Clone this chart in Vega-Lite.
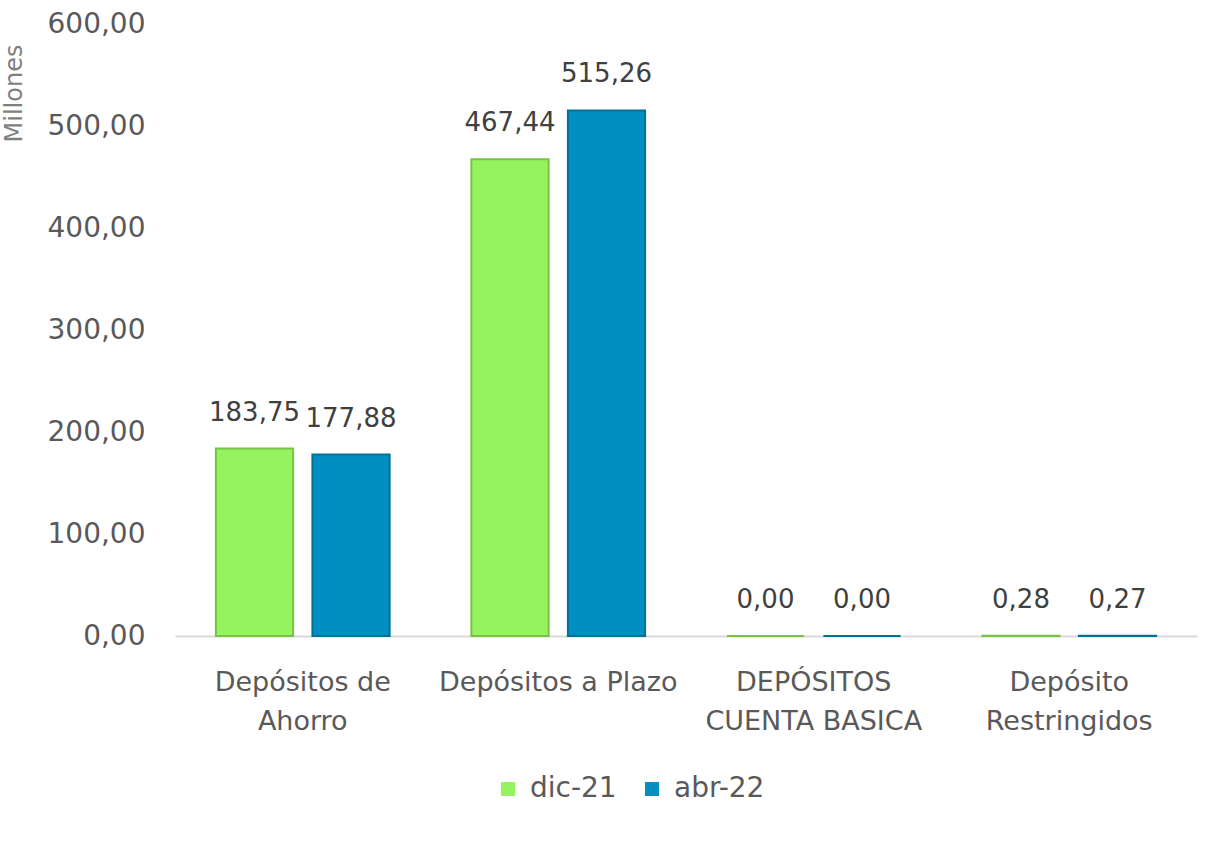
{
  "$schema": "https://vega.github.io/schema/vega-lite/v6.json",
  "autosize": "none",
  "width": 1022,
  "height": 612,
  "padding": {"left": 175, "top": 24, "right": 32, "bottom": 206},
  "background": "white",
  "config": {
    "locale": {"number": {"decimal": ",", "thousands": ".", "grouping": [3], "currency": ["", ""]}},
    "font": "DejaVu Sans",
    "view": {"stroke": null}
  },
  "data": {"values": [
    {"categoria": "Depósitos de Ahorro", "periodo": "dic-21", "valor": 183.75},
    {"categoria": "Depósitos de Ahorro", "periodo": "abr-22", "valor": 177.88},
    {"categoria": "Depósitos a Plazo", "periodo": "dic-21", "valor": 467.44},
    {"categoria": "Depósitos a Plazo", "periodo": "abr-22", "valor": 515.26},
    {"categoria": "DEPÓSITOS CUENTA BASICA", "periodo": "dic-21", "valor": 0.0},
    {"categoria": "DEPÓSITOS CUENTA BASICA", "periodo": "abr-22", "valor": 0.0},
    {"categoria": "Depósito Restringidos", "periodo": "dic-21", "valor": 0.28},
    {"categoria": "Depósito Restringidos", "periodo": "abr-22", "valor": 0.27}
  ]},
  "encoding": {
    "x": {
      "field": "categoria", "type": "nominal", "sort": null,
      "scale": {"paddingInner": 0.32, "paddingOuter": 0.16},
      "axis": {
        "title": null, "labelAngle": 0, "ticks": false, "domain": true,
        "domainColor": "#D9D9D9", "domainWidth": 2,
        "labelFontSize": 27, "labelColor": "#595959", "labelPadding": 33,
        "labelLineHeight": 39, "labelBaseline": "top", "labelLimit": 0, "labelOverlap": false,
        "labelExpr": "datum.label == 'Depósitos de Ahorro' ? ['Depósitos de', 'Ahorro'] : datum.label == 'DEPÓSITOS CUENTA BASICA' ? ['DEPÓSITOS', 'CUENTA BASICA'] : datum.label == 'Depósito Restringidos' ? ['Depósito', 'Restringidos'] : datum.label"
      }
    },
    "xOffset": {"field": "periodo", "type": "nominal", "sort": ["dic-21", "abr-22"], "scale": {"paddingInner": 0.2}},
    "y": {
      "field": "valor", "type": "quantitative",
      "scale": {"domain": [0, 600]},
      "axis": {
        "title": "Millones", "titleFontSize": 24, "titleColor": "#7F7F7F", "titleFontWeight": "normal",
        "titleX": -149, "titleY": 69,
        "grid": false, "domain": false, "ticks": false, "labelOverlap": false, "labelFlush": false,
        "values": [0, 100, 200, 300, 400, 500, 600],
        "format": ",.2f", "labelFontSize": 28, "labelColor": "#595959", "labelPadding": 30
      }
    }
  },
  "layer": [
    {
      "mark": {"type": "bar", "strokeWidth": 2},
      "encoding": {
        "color": {
          "field": "periodo", "type": "nominal", "sort": ["dic-21", "abr-22"],
          "scale": {"domain": ["dic-21", "abr-22"], "range": ["#96F360", "#008FC0"]},
          "legend": {
            "title": null, "orient": "none", "direction": "horizontal",
            "legendX": 319, "legendY": 751,
            "symbolType": "square", "symbolSize": 196, "symbolStrokeWidth": 0,
            "labelFontSize": 28, "labelColor": "#595959", "columnPadding": 21, "labelOffset": 8
          }
        },
        "stroke": {
          "field": "periodo", "type": "nominal",
          "scale": {"domain": ["dic-21", "abr-22"], "range": ["#77C444", "#00729A"]},
          "legend": null
        }
      }
    },
    {
      "mark": {"type": "text", "baseline": "middle", "dy": -36, "fontSize": 26, "color": "#404040"},
      "encoding": {
        "text": {"field": "valor", "type": "quantitative", "format": ",.2f"}
      }
    }
  ]
}
